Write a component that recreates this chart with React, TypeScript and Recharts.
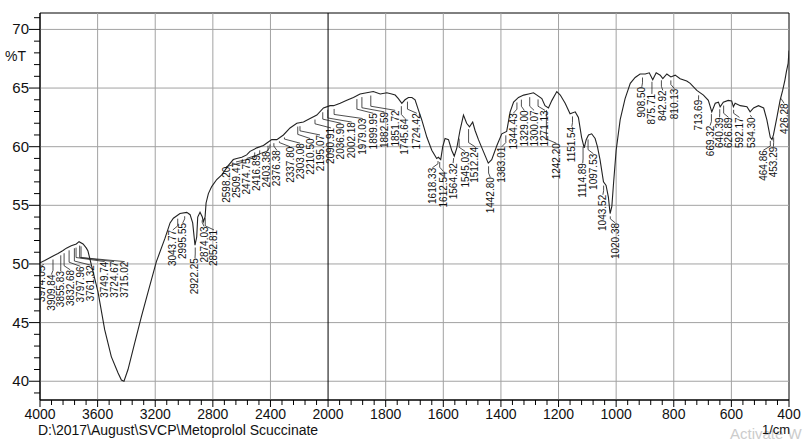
import React from 'react';
import { ComposedChart, Line, Scatter, XAxis, YAxis, ReferenceLine, ReferenceArea } from 'recharts';

// spectrum trace, 4000 -> 400 cm-1
const wavenumbers = [
  4000, 3967, 3922, 3875, 3840, 3817, 3783, 3748, 3729, 3701, 3678, 3667,
  3597, 3551, 3505, 3458, 3435, 3417, 3389, 3342, 3296, 3250, 3192, 3132,
  3097, 3074, 3028, 2981, 2958, 2940, 2924, 2912, 2905, 2889, 2873, 2866,
  2854, 2847, 2831, 2808, 2773, 2738, 2692, 2658, 2634, 2599, 2565, 2542,
  2495, 2449, 2415, 2391, 2356, 2310, 2264, 2217, 2171, 2125, 2078, 2032,
  1993, 1981, 1958, 1935, 1912, 1889, 1866, 1843, 1819, 1796, 1779, 1767,
  1756, 1744, 1733, 1721, 1709, 1698, 1686, 1675, 1657, 1640, 1623, 1617,
  1609, 1602, 1594, 1582, 1571, 1562, 1553, 1542, 1530, 1519, 1509, 1498,
  1490, 1478, 1461, 1444, 1432, 1414, 1397, 1380, 1368, 1356, 1339, 1321,
  1304, 1287, 1275, 1258, 1247, 1235, 1223, 1206, 1194, 1177, 1160, 1142,
  1131, 1120, 1111, 1104, 1096, 1085, 1073, 1065, 1056, 1044, 1035, 1027,
  1021, 1015, 1009, 1000, 986, 969, 951, 934, 917, 899, 885, 873,
  861, 847, 838, 824, 810, 795, 778, 755, 743, 720, 697, 680,
  668, 656, 645, 639, 628, 611, 599, 593, 587, 569, 546, 535,
  523, 506, 488, 477, 465, 459, 454, 442, 431, 422, 414, 409,
  403, 400,
];
const transmittance = [
  50.1, 50.3, 50.6, 50.9, 51.15, 51.35, 51.55, 51.7, 51.9, 51.7, 51.35, 51.1,
  47.6, 44.4, 42.1, 40.7, 40.1, 40.0, 41.0, 43.3, 45.5, 47.6, 50.2, 52.2,
  53.5, 53.9, 54.3, 54.4, 54.2, 53.5, 51.6, 52.3, 54.0, 54.4, 54.0, 53.6,
  54.0, 55.2, 56.0, 56.6, 57.2, 57.6, 58.4, 58.9, 59.0, 59.1, 59.3, 59.6,
  59.9, 60.1, 60.4, 60.6, 60.6, 61.0, 61.6, 62.0, 62.1, 62.4, 62.7, 63.3,
  63.5, 63.5, 63.7, 63.95, 64.2, 64.5, 64.6, 64.7, 64.5, 64.6, 64.5, 64.4,
  64.1, 63.7, 64.0, 64.2, 64.2, 64.0, 63.1, 62.3, 60.8, 59.7, 59.0, 59.1,
  58.9, 60.0, 60.7, 60.6, 59.7, 59.2, 59.9, 61.4, 62.7, 62.0, 61.7, 62.1,
  61.4, 60.6, 59.6, 58.6, 58.9, 60.1, 61.1, 61.3, 62.97, 63.8, 64.2, 64.4,
  64.5, 64.6, 64.4, 64.1, 63.5, 63.3, 63.95, 64.7, 64.4, 63.7, 62.8, 62.97,
  62.5, 60.8, 59.9, 60.6, 61.0, 61.1, 60.7, 60.0, 58.9, 57.0, 56.7, 55.7,
  54.3, 54.9, 56.9, 59.7, 62.3, 64.1, 65.4, 65.9, 66.2, 66.2, 66.3, 65.7,
  66.3, 66.1, 65.8, 66.2, 65.95, 66.1, 65.8, 65.6, 65.4, 64.8, 64.4, 63.95,
  62.97, 63.7, 63.8, 63.4, 63.8, 63.95, 63.9, 63.4, 63.7, 63.5, 63.4, 62.97,
  63.3, 63.5, 63.3, 62.3, 60.8, 60.6, 61.0, 62.5, 63.95, 64.8, 65.7, 66.4,
  67.1, 68.2,
];

// peak annotations: label text, wavenumber of the label column, %T at the top of the text
const peakNames = [
  '3974.05', '3909.84', '3855.83', '3832.68', '3797.96', '3761.32', '3749.74', '3724.67', '3715.02',
  '3043.77', '2995.55', '2922.25', '2874.03', '2852.81',
  '2598.20', '2509.47', '2474.75', '2416.89', '2403.38', '2376.38', '2337.80', '2303.08', '2210.50', '2195.07', '2090.91',
  '2036.90', '2002.18', '1979.03', '1899.95', '1882.59', '1851.72', '1745.64', '1724.42',
  '1618.33', '1612.54', '1564.32', '1545.03', '1512.24', '1442.80', '1383.01',
  '1344.43', '1329.00', '1300.07', '1271.13', '1242.20', '1151.54', '1114.89', '1097.53', '1043.52', '1020.38',
  '908.50', '875.71', '842.92', '810.13', '713.69', '669.32', '640.39', '626.89', '592.17', '534.30',
  '464.86', '453.29', '426.28',
];
const peakLabelAt = [
  3991, 3921, 3856, 3790, 3720, 3648, 3551, 3486, 3412,
  3078, 3009, 2924, 2861, 2792,
  2708, 2639, 2565, 2495, 2426, 2356, 2264, 2194, 2125, 2056, 1990,
  1956, 1918, 1880, 1843, 1805, 1767, 1733, 1692,
  1638, 1600, 1566, 1524, 1490, 1437, 1397,
  1357, 1319, 1285, 1247, 1208, 1154, 1116, 1079, 1046, 1003,
  911, 876, 838, 798, 714, 674, 641, 610, 572, 529,
  489, 454, 417,
];
const peakLabelTop = [
  49.85, 49.1, 49.4, 49.5, 49.8, 49.9, 50.2, 50.2, 50.2,
  52.9, 53.5, 50.5, 53.2, 52.9,
  58.3, 58.7, 59.0, 59.3, 59.6, 59.7, 60.0, 60.3, 60.7, 61.0, 61.6,
  62.0, 62.1, 62.4, 62.85, 62.97, 63.1, 62.4, 62.85,
  58.2, 57.9, 58.6, 59.6, 60.0, 57.4, 60.0,
  62.85, 63.1, 63.1, 63.1, 60.3, 61.7, 58.6, 59.4, 55.9, 53.5,
  65.1, 64.5, 64.8, 64.95, 64.0, 61.8, 62.5, 62.5, 62.5, 62.5,
  59.7, 60.0, 63.7,
];

const xMajor = [4000, 3600, 3200, 2800, 2400, 2000, 1800, 1600, 1400, 1200, 1000, 800, 600, 400];
const yMajor = [40, 45, 50, 55, 60, 65, 70];

// the axis is compressed 2:1 above 2000 cm-1
const toPos = (w: number) => (w >= 2000 ? 4000 - w : 2000 + 2 * (2000 - w));

const Y_MIN = 38.4;
const Y_MAX = 71.4;
const FONT = '"Liberation Sans", Arial, sans-serif';

const spectrum = wavenumbers.map((w, i) => ({ p: toPos(w), t: transmittance[i] }));

const curveAt = (w: number) => {
  for (let i = 0; i < wavenumbers.length - 1; i++) {
    const a = wavenumbers[i];
    const b = wavenumbers[i + 1];
    if (w <= a && w >= b) {
      const f = (a - w) / (a - b);
      return transmittance[i] + f * (transmittance[i + 1] - transmittance[i]);
    }
  }
  return transmittance[transmittance.length - 1];
};

const labels = peakNames.map((name, i) => ({ p: toPos(peakLabelAt[i]), t: peakLabelTop[i], name }));

const leaders = peakNames.map((name, i) => {
  const w = parseFloat(name);
  const top = peakLabelTop[i];
  const end = curveAt(w) - 0.3;
  const pts = [{ p: toPos(peakLabelAt[i]), t: top }];
  if (end > top + 0.35) {
    pts.push({ p: toPos(w), t: top + 0.35 });
  }
  pts.push({ p: toPos(w), t: Math.max(end, top + 0.1) });
  return pts;
});

const xTicks = Array.from({ length: 66 }, (_, i) => i * 80);
const yTicks = Array.from({ length: 33 }, (_, i) => 39 + i);

const XTick = (props: any) => {
  const { x, y, payload } = props;
  const p = payload.value;
  const major = p % 400 === 0;
  const idx = p / 400;
  return (
    <g>
      <line x1={x} y1={y} x2={x} y2={y + (major ? 7 : 5)} stroke="#000" strokeWidth={1} />
      {major && (
        <text x={x} y={y + 19} textAnchor="middle" fontSize={14} fontFamily={FONT} fill="#111">
          {xMajor[idx]}
        </text>
      )}
    </g>
  );
};

const YTick = (props: any) => {
  const { x, y, payload } = props;
  const v = payload.value;
  const major = v % 5 === 0;
  return (
    <g>
      <line x1={x - (major ? 11 : 6)} y1={y} x2={x} y2={y} stroke="#000" strokeWidth={1} />
      {major && (
        <text x={x - 11} y={y + 5} textAnchor="end" fontSize={15} fontFamily={FONT} fill="#111">
          {v}
        </text>
      )}
    </g>
  );
};

const PeakLabel = (props: any) => {
  const { cx, cy, payload } = props;
  const ax = cx + 3.5;
  return (
    <text
      x={ax}
      y={cy}
      transform={`rotate(-90 ${ax} ${cy})`}
      textAnchor="end"
      fontSize={10}
      fontFamily={FONT}
      fill="#111"
    >
      {payload.name}
    </text>
  );
};

const App: React.FC = () => {
  return (
    <div style={{ position: 'absolute', left: 0, top: 0, width: 808, height: 439, background: '#fff', overflow: 'hidden' }}>
      <ComposedChart width={808} height={439} data={spectrum} margin={{ top: 13, right: 19, left: 0, bottom: 0 }}>
        <XAxis
          type="number"
          dataKey="p"
          domain={[0, 5200]}
          ticks={xTicks}
          interval={0}
          tick={<XTick />}
          tickLine={false}
          tickSize={0}
          tickMargin={0}
          axisLine={{ stroke: '#000' }}
          height={39}
          allowDataOverflow
        />
        <YAxis
          type="number"
          domain={[Y_MIN, Y_MAX]}
          ticks={yTicks}
          interval={0}
          tick={<YTick />}
          tickLine={false}
          tickSize={0}
          tickMargin={0}
          axisLine={{ stroke: '#000' }}
          width={40}
          allowDataOverflow
        />
        {yMajor.map((v) => (
          <ReferenceLine key={`gy-${v}`} y={v} stroke="#a2a2a2" strokeWidth={1} />
        ))}
        {xMajor.slice(1, -1).map((w) => (
          <ReferenceLine
            key={`gx-${w}`}
            x={toPos(w)}
            stroke={w === 2000 ? '#000' : '#a2a2a2'}
            strokeWidth={1}
          />
        ))}
        <ReferenceArea x1={0} x2={5200} y1={Y_MIN} y2={Y_MAX} fill="none" stroke="#000" strokeWidth={1} />
        <Line
          type="linear"
          dataKey="t"
          stroke="#222"
          strokeWidth={1.1}
          dot={false}
          isAnimationActive={false}
        />
        {leaders.map((pts, i) => (
          <Line
            key={`ld-${i}`}
            data={pts}
            type="linear"
            dataKey="t"
            stroke="#222"
            strokeWidth={0.8}
            dot={false}
            isAnimationActive={false}
          />
        ))}
        <Scatter data={labels} dataKey="t" shape={<PeakLabel />} isAnimationActive={false} />
      </ComposedChart>
      <div style={{ position: 'absolute', left: 5, top: 48, fontSize: 14, fontFamily: FONT, color: '#111' }}>%T</div>
      <div style={{ position: 'absolute', left: 730, top: 425, fontSize: 15, fontFamily: FONT, color: '#cccccc', whiteSpace: 'nowrap' }}>
        Activate W
      </div>
      <div style={{ position: 'absolute', left: 38, top: 422, fontSize: 14, fontFamily: FONT, color: '#111', whiteSpace: 'nowrap' }}>
        D:\2017\August\SVCP\Metoprolol Scuccinate
      </div>
      <div style={{ position: 'absolute', left: 762, top: 422, fontSize: 13, fontFamily: FONT, color: '#111' }}>1/cm</div>
    </div>
  );
};

export default App;
